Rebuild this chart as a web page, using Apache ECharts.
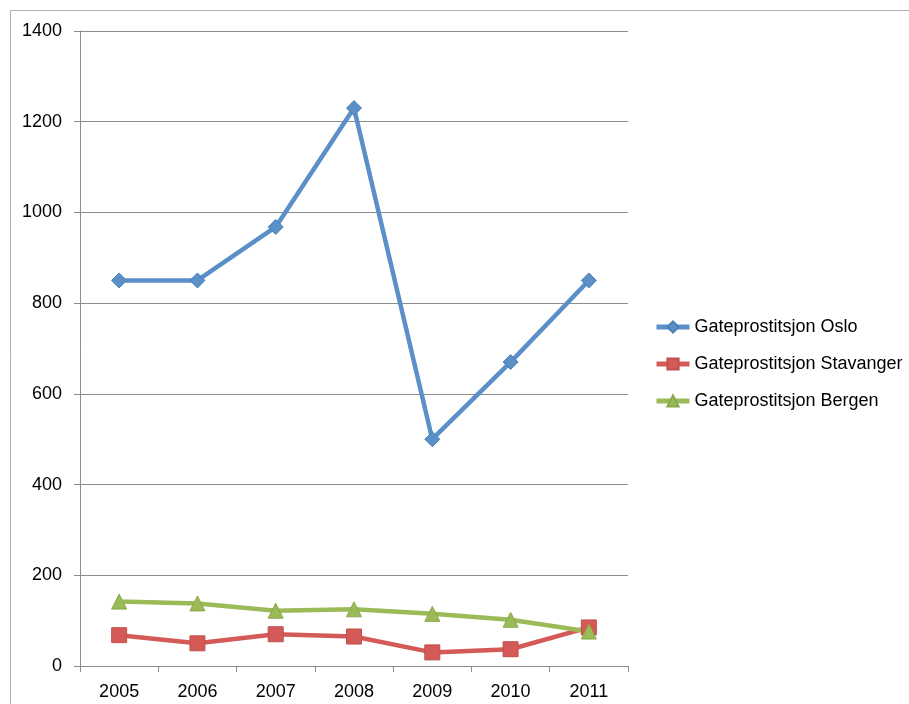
<!DOCTYPE html>
<html>
<head>
<meta charset="utf-8">
<script src="https://cdn.jsdelivr.net/npm/echarts@6/dist/echarts.min.js"></script>
<style>html,body{margin:0;padding:0;background:#fff}#c{width:909px;height:704px}</style>
</head>
<body>
<div id="c"></div>
<script>
var categories = ['2005','2006','2007','2008','2009','2010','2011'];
var oslo = [850, 850, 968, 1230, 500, 670, 850];
var stavanger = [68, 50, 70, 65, 30, 37, 85];
var bergen = [142, 138, 122, 125, 115, 102, 76];
var seriesNames = ['Gateprostitsjon Oslo','Gateprostitsjon Stavanger','Gateprostitsjon Bergen'];

var FONT = 'Liberation Sans';
var chart = echarts.init(document.getElementById('c'));
function mk(name, data, color, border, symbol, size){
  return {
    name: name, type: 'line', data: data, symbol: symbol, symbolSize: size,
    lineStyle: {color: color, width: 4.5},
    itemStyle: {color: color, borderColor: border, borderWidth: 1},
    emphasis: {disabled: true}, animation: false
  };
}
chart.setOption({
  animation: false,
  graphic: [{type:'rect', shape:{x:10.5,y:10.5,width:1000,height:1000}, style:{fill:'none', stroke:'#b0b0b0', lineWidth:1}, z:-1}],
  grid: {left: 80, right: 281, top: 31, bottom: 38, containLabel: false},
  legend: {
    orient: 'vertical', left: 649, top: 313, itemWidth: 33, itemHeight: 14, itemGap: 19,
    lineStyle: {width: 5},
    textStyle: {fontFamily: FONT, fontSize: 18, color: '#000'},
    data: seriesNames
  },
  xAxis: {
    type: 'category', data: categories, boundaryGap: true,
    axisLine: {lineStyle: {color: '#8c8c8c', width: 1}},
    axisTick: {show: true, length: 6, lineStyle: {color: '#8c8c8c'}},
    axisLabel: {fontFamily: FONT, fontSize: 18, color: '#000', margin: 17}
  },
  yAxis: {
    type: 'value', min: 0, max: 1400, interval: 200,
    axisLine: {show: true, lineStyle: {color: '#8c8c8c', width: 1}},
    axisTick: {show: true, length: 6, lineStyle: {color: '#8c8c8c'}},
    splitLine: {lineStyle: {color: '#8c8c8c', width: 1}},
    axisLabel: {fontFamily: FONT, fontSize: 18, color: '#000', margin: 18, formatter: function(v){return String(v);}}
  },
  series: [
    mk(seriesNames[0], oslo, '#5b8fc8', '#4a7fb8', 'diamond', 15),
    mk(seriesNames[1], stavanger, '#d45a57', '#c0504d', 'rect', 15),
    mk(seriesNames[2], bergen, '#9bbb59', '#88a84a', 'triangle', 15)
  ]
});
</script>
</body>
</html>
